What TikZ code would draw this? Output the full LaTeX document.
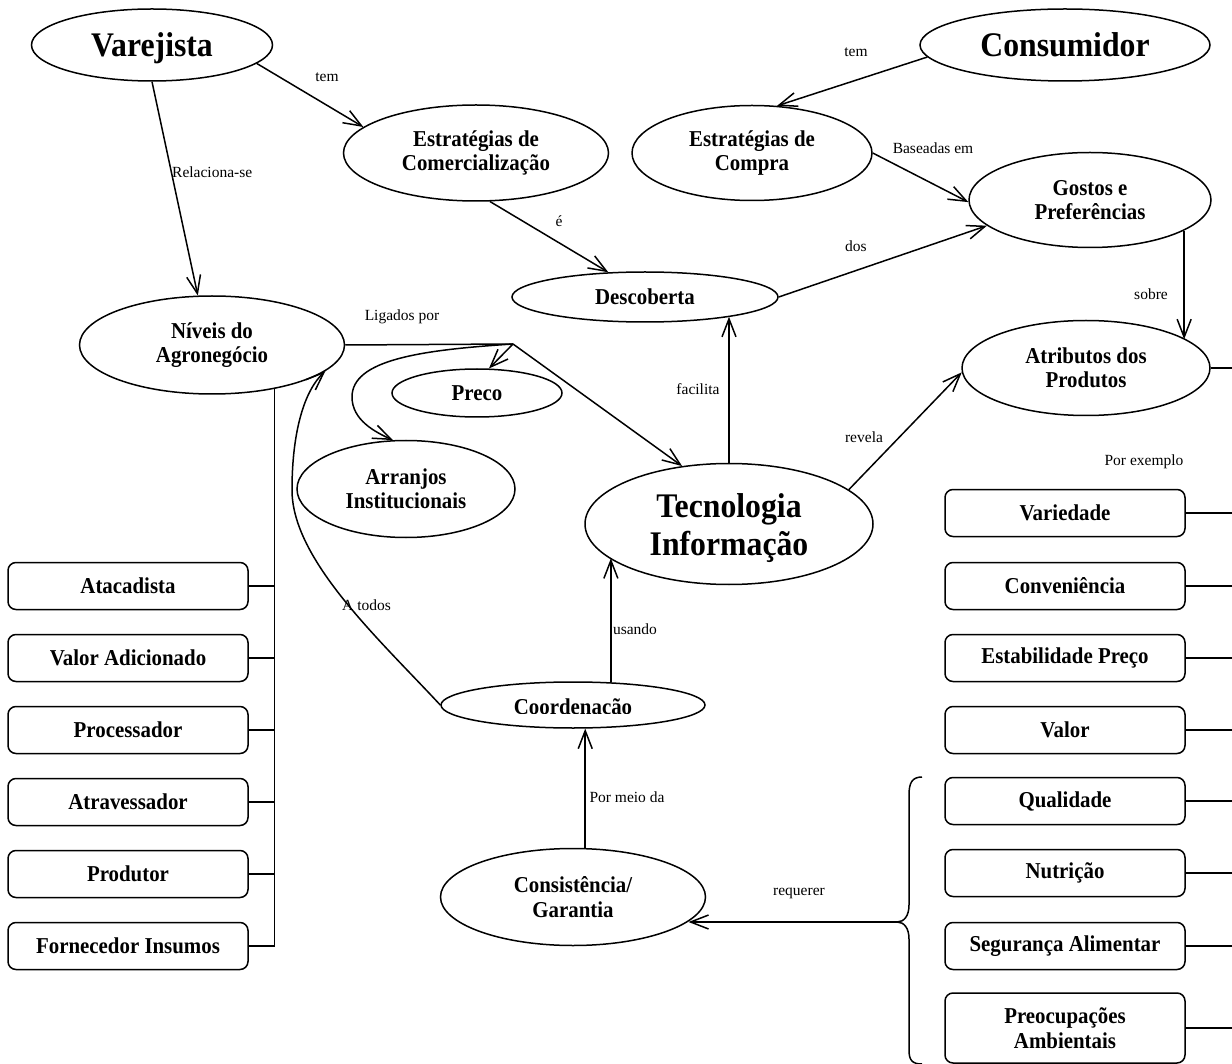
\documentclass[tikz,border=0pt]{standalone}
\usepackage{fontspec}
\setmainfont{Liberation Serif}
\newfontfamily\tallserif{Liberation Serif}[FakeStretch=0.92]
\usetikzlibrary{shapes.geometric,arrows.meta}
\newcommand{\nodetxt}{\tallserif\bfseries\fontsize{22.7}{24.5}\selectfont}
\newcommand{\bigtxt}{\tallserif\bfseries\fontsize{34.5}{38}\selectfont}
\newcommand{\labtxt}{\fontsize{15.5}{18}\selectfont}
\begin{document}
\begin{tikzpicture}[x=1pt,y=-1pt,
  ell/.style={draw, ellipse, line width=1.5pt, inner sep=0pt, align=center, font=\nodetxt},
  rbox/.style={draw, rounded corners=8pt, line width=1.5pt, minimum width=240pt,
    minimum height=47pt, inner sep=0pt, align=center, font=\nodetxt},
  lab/.style={font=\labtxt, inner sep=0pt},
  link/.style={line width=1.5pt},
  conn/.style={link, -{Straight Barb[length=18pt,width=14pt]}}]
\useasboundingbox (0,0) rectangle (1232,1064);

% main concepts
\node[ell, minimum width=241pt, minimum height=72pt, font=\bigtxt, text depth=0pt] (var) at (152,45) {Varejista};
\node[ell, minimum width=290pt, minimum height=72pt, font=\bigtxt, text depth=0pt] (cons) at (1065,45) {Consumidor};
\node[ell, minimum width=265pt, minimum height=96pt] (ecom) at (476,153) {Estratégias de\\Comercialização};
\node[ell, minimum width=240pt, minimum height=95pt] (ecomp) at (752,153) {Estratégias de\\Compra};
\node[ell, minimum width=242pt, minimum height=95pt] (gost) at (1090,200) {Gostos e\\Preferências};
\node[ell, minimum width=266pt, minimum height=50pt] (desc) at (645,297) {Descoberta};
\node[ell, minimum width=265pt, minimum height=98pt] (niv) at (212,345) {Níveis do\\Agronegócio};
\node[ell, minimum width=170pt, minimum height=48pt] (preco) at (477,393) {Preco};
\node[ell, minimum width=218pt, minimum height=97pt] (arranj) at (406,489) {Arranjos\\Institucionais};
\node[ell, minimum width=248pt, minimum height=95pt] (atr) at (1086,368) {Atributos dos\\Produtos};
\node[ell, minimum width=288pt, minimum height=121pt] (tec) at (729,524) {};
\node[font=\bigtxt, align=center, inner sep=0pt] (tectxt) at ([yshift=-4pt]tec.center) {Tecnologia\\Informação};
\node[ell, minimum width=264pt, minimum height=46pt] (coord) at (573,705) {};
\begin{scope}
  \clip (430,690) rectangle (720,713.5);
  \node[font=\nodetxt, inner sep=0pt, anchor=base] (coordtxt) at (573,714) {Coordenação};
\end{scope}
\node[ell, minimum width=265pt, minimum height=97pt] (consi) at (573,897) {Consistência/\\Garantia};

% agribusiness levels
\node[rbox] (atac) at (128,586) {Atacadista};
\node[rbox] (vadic) at (128,658) {Valor Adicionado};
\node[rbox] (proc) at (128,730) {Processador};
\node[rbox] (atrav) at (128,802) {Atravessador};
\node[rbox] (prod) at (128,874) {Produtor};
\node[rbox] (forn) at (128,946) {Fornecedor Insumos};

% product attributes
\node[rbox] (vari) at (1065,513) {Variedade};
\node[rbox] (conv) at (1065,586) {Conveniência};
\node[rbox] (estp) at (1065,658) {Estabilidade Preço};
\node[rbox] (valor) at (1065,730) {Valor};
\node[rbox] (qual) at (1065,801) {Qualidade};
\node[rbox] (nutr) at (1065,873) {Nutrição};
\node[rbox] (segu) at (1065,946) {Segurança Alimentar};
\node[rbox, minimum height=70pt] (preoc) at (1065,1028) {Preocupações\\Ambientais};

\coordinate (J) at (513,344);
\coordinate (edge) at (1232,0);
\coordinate (brtip) at (897,922);

% connectors
\draw[conn] (var.270) -- (niv.106);
\draw[conn] (var.-10) -- (ecom.167);
\draw[conn] (ecom.286) -- (desc.146);
\draw[conn] (cons.185) -- (ecomp.62);
\draw[conn] (ecomp.0) -- (gost.181);
\draw[conn] (desc.0) -- (gost.194);
\draw[conn] (gost.-18) -- (gost.-18 |- atr.16);
\draw[link] (niv.0) -- (J);
\draw[conn] (J) -- (preco.64);
\draw[conn] (J) .. controls (420,350) and (352,360) .. (352,397)
               .. controls (352,420) and (375,432) .. (arranj.105);
\draw[conn] (J) -- (tec.129);
\draw[conn] (tec.90) -- (tec.90 |- desc.-13);
\draw[conn] (tec.16) -- (atr.182);
\draw[conn] (coord.31.5) -- (coord.31.5 |- tec.196);
\draw[conn] (coord.180) .. controls (380,640) and (292,560) .. (292,490)
               .. controls (292,430) and (305,390) .. (niv.-13);
\draw[conn] (consi.76) -- (consi.76 |- coord.-62);
\draw[conn] (brtip) -- (brtip -| consi.-12);

% spine of the levels
\draw[link] (niv.-35) -- (niv.-35 |- forn.east);
\foreach \b in {atac,vadic,proc,atrav,prod,forn}
  \draw[link] (\b.east) -- (\b.east -| niv.-35);

% lines leaving to the right
\draw[link] (atr.0) -- (atr.0 -| edge);
\foreach \b in {vari,conv,estp,valor,qual,nutr,segu,preoc}
  \draw[link] (\b.east) -- (\b.east -| edge);

% brace
\draw[link] (922,777) .. controls (912,777) and (909,783) .. (909,795) -- (909,905)
  .. controls (909,916) and (904,922) .. (brtip)
  .. controls (904,922) and (909,928) .. (909,939) -- (909,1050)
  .. controls (909,1060) and (912,1064) .. (922,1064);

% link labels
\node[lab, anchor=west] (lrel) at (172,172) {Relaciona-se};
\node[lab] (ltem1) at (327,77) {tem};
\node[lab] (le) at (559,221) {é};
\node[lab] (ltem2) at (856,52) {tem};
\node[lab] (lbas) at (933,148) {Baseadas em};
\node[lab] (ldos) at (856,246) {dos};
\node[lab] (lsob) at (1151,294) {sobre};
\node[lab] (llig) at (402,317) {Ligados por};
\node[lab] (lfac) at (698,389) {facilita};
\node[lab] (lrev) at (864,437) {revela};
\node[lab, anchor=west] (ltod) at (342,605) {A todos};
\node[lab] (lusa) at (635,629) {usando};
\node[lab] (lmei) at (627,797) {Por meio da};
\node[lab] (lreq) at (799,893) {requerer};
\node[lab] (lex) at (1144,462) {Por exemplo};
\end{tikzpicture}
\end{document}
